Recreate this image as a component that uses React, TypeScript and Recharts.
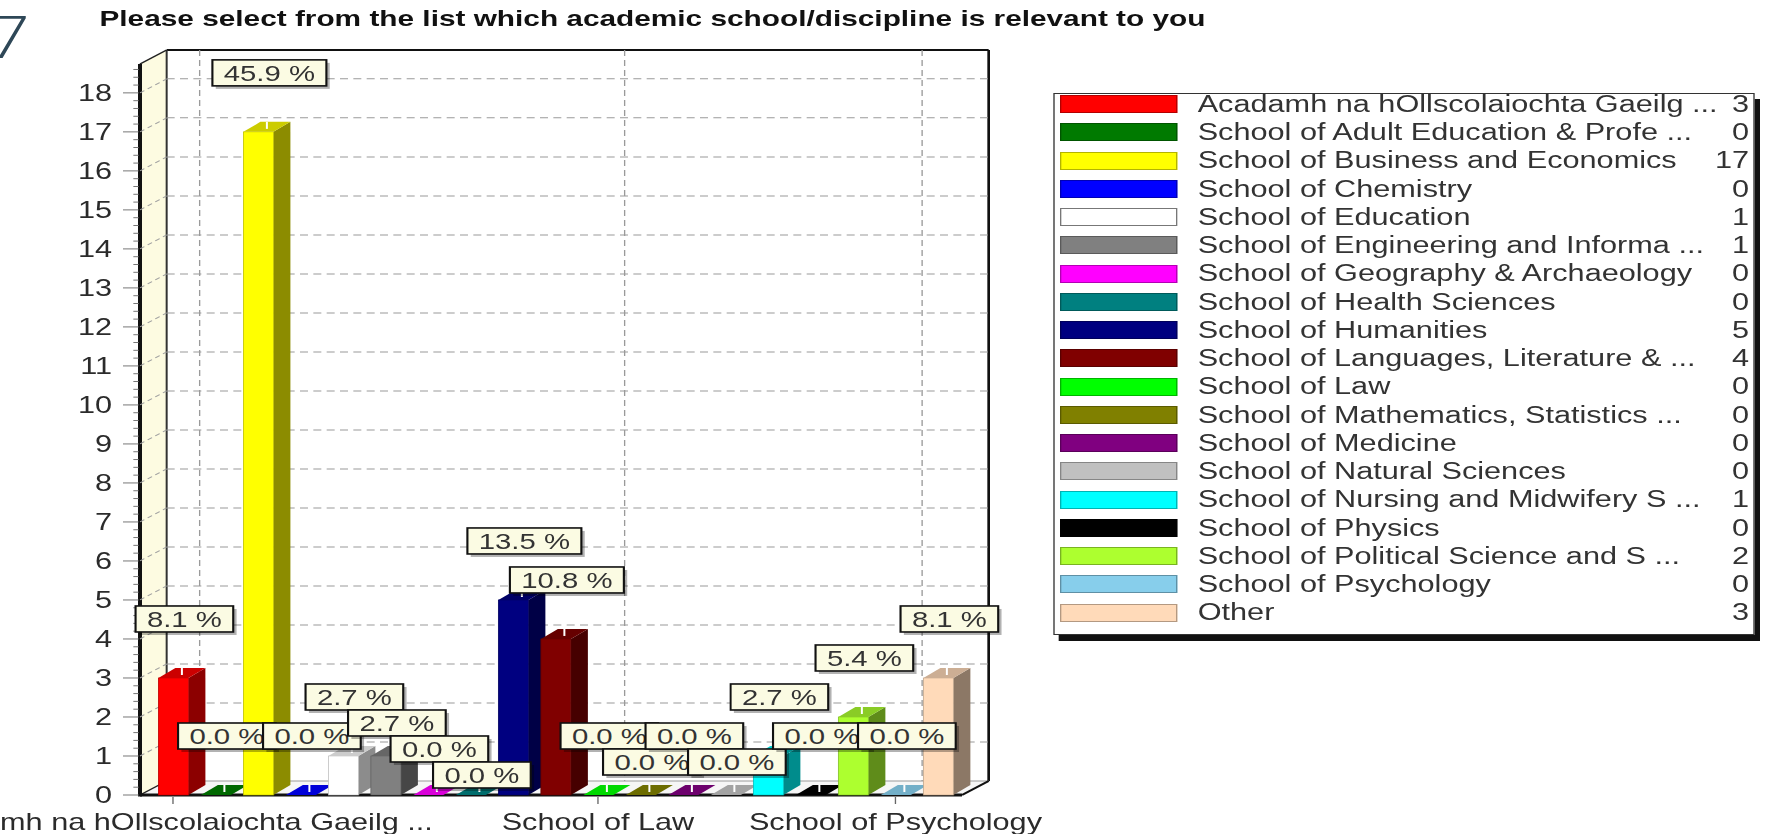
import React from 'react';
import {
  BarChart,
  Bar,
  XAxis,
  YAxis,
  Cell,
  LabelList,
  ReferenceArea,
  ReferenceLine,
  Legend,
} from 'recharts';

// answers per school / discipline (37 respondents)
const schools = [
  'Acadamh na hOllscolaiochta Gaeilg ...',
  'School of Adult Education & Profe ...',
  'School of Business and Economics',
  'School of Chemistry',
  'School of Education',
  'School of Engineering and Informa ...',
  'School of Geography & Archaeology',
  'School of Health Sciences',
  'School of Humanities',
  'School of Languages, Literature & ...',
  'School of Law',
  'School of Mathematics, Statistics ...',
  'School of Medicine',
  'School of Natural Sciences',
  'School of Nursing and Midwifery S ...',
  'School of Physics',
  'School of Political Science and S ...',
  'School of Psychology',
  'Other',
];
const counts = [3, 0, 17, 0, 1, 1, 0, 0, 5, 4, 0, 0, 0, 0, 1, 0, 2, 0, 3];
const schoolColors = [
  '#ff0000', '#007a00', '#ffff00', '#0000ff', '#ffffff', '#808080', '#ff00ff',
  '#008080', '#000080', '#800000', '#00ff00', '#808000', '#800080', '#c0c0c0',
  '#00ffff', '#000000', '#adff2f', '#87ceeb', '#ffdab9',
];
const yTicks = [0, 1, 2, 3, 4, 5, 6, 7, 8, 9, 10, 11, 12, 13, 14, 15, 16, 17, 18];
const xTicksShown = [0, 10, 17];

const TITLE = 'Please select from the list which academic school/discipline is relevant to you';

// the source screenshot is stretched sideways, so everything is drawn narrower and scaled
const STRETCH = 1772 / 1329;
const CHART_W = 1329;
const CHART_H = 834;
const PLOT = { left: 113.8, right: 719.4, top: 64, bottom: 795 };
const Y_MAX = 18.74;
const WALL_DX = 20;
const WALL_DY = 14;
const BAR_DX = 12.75;
const BAR_DY = 10;
const AXIS_GAP = 8.8;
const FLOOR_EXTRA = 2.1;
const FONT = "'Liberation Sans', Arial, sans-serif";
const TEXT = '#2b2b2b';

const LABEL_FONT = 22;
const LABEL_H = 26;
const LABEL_RISE = 59;
const LABEL_DX = 8.25;

const total = counts.reduce((a, b) => a + b, 0);
const pctText = (v: number) => `${((v / total) * 100).toFixed(1)} %`;
const chartData = schools.map((name, i) => ({ name, value: counts[i] }));
const yMinorTicks = Array.from({ length: Math.floor(Y_MAX * 5) + 1 }, (_, k) => k / 5);

// push a label down when it would sit on top of its left neighbour
const unitPx = (PLOT.bottom - PLOT.top) / Y_MAX;
const labelDrop: number[] = [];
{
  let prev = Infinity;
  counts.forEach((v, i) => {
    const nominal = -v * unitPx - LABEL_RISE;
    let c = nominal;
    if (i > 0 && Math.abs(c - prev) < LABEL_H) c = prev + LABEL_H;
    labelDrop.push(c - nominal);
    prev = c;
  });
}

const shade = (hex: string, f: number) => {
  const n = parseInt(hex.slice(1), 16);
  const r = Math.round(((n >> 16) & 255) * f);
  const g = Math.round(((n >> 8) & 255) * f);
  const b = Math.round((n & 255) * f);
  return `rgb(${r},${g},${b})`;
};

const arialW: Record<string, number> = { '.': 0.278, ' ': 0.278, '%': 0.889 };
const textWidth = (s: string, size: number) =>
  [...s].reduce((a, ch) => a + (arialW[ch] ?? 0.556), 0) * size;

// walls + floor of the 3D box
const Frame = (p: any) => {
  const { x, y, width, height } = p;
  const ax = x - AXIS_GAP;
  const rx = x + width + FLOOR_EXTRA;
  const top = y;
  const bot = y + height;
  return (
    <g>
      <rect x={ax + WALL_DX} y={top - WALL_DY} width={rx - ax} height={height} fill="#ffffff" />
      <polygon
        points={`${ax},${bot} ${ax},${top} ${ax + WALL_DX},${top - WALL_DY} ${ax + WALL_DX},${bot - WALL_DY}`}
        fill="#fdfbe1"
      />
      <polygon
        points={`${ax},${bot} ${ax + WALL_DX},${bot - WALL_DY} ${rx + WALL_DX},${bot - WALL_DY} ${rx},${bot}`}
        fill="#f6f6f6"
      />
      <line x1={ax + WALL_DX} y1={top - WALL_DY} x2={rx + WALL_DX} y2={top - WALL_DY} stroke="#111" strokeWidth={2} />
      <line x1={rx + WALL_DX} y1={top - WALL_DY} x2={rx + WALL_DX} y2={bot - WALL_DY} stroke="#111" strokeWidth={2} />
      <line x1={ax + WALL_DX} y1={top - WALL_DY} x2={ax + WALL_DX} y2={bot - WALL_DY} stroke="#333" strokeWidth={1.5} />
      <line x1={ax} y1={top} x2={ax + WALL_DX} y2={top - WALL_DY} stroke="#222" strokeWidth={1.5} />
      <line x1={ax} y1={bot} x2={ax + WALL_DX} y2={bot - WALL_DY} stroke="#222" strokeWidth={1.2} />
      <line x1={ax + WALL_DX} y1={bot - WALL_DY} x2={rx + WALL_DX} y2={bot - WALL_DY} stroke="#999" strokeWidth={1} />
      <line x1={rx} y1={bot} x2={rx + WALL_DX} y2={bot - WALL_DY} stroke="#111" strokeWidth={2} />
      <line x1={ax} y1={bot} x2={rx} y2={bot} stroke="#111" strokeWidth={3} />
      <line x1={ax} y1={bot + 1.5} x2={ax} y2={top} stroke="#111" strokeWidth={3} />
    </g>
  );
};

const HGrid = (p: any) => {
  const { x1, x2, y1 } = p;
  const ax = x1 - AXIS_GAP;
  const rx = x2 + FLOOR_EXTRA;
  return (
    <g>
      <line x1={ax} y1={y1} x2={ax + WALL_DX} y2={y1 - WALL_DY} stroke="#a0a0a0" strokeWidth={1} strokeDasharray="4 3" />
      <line x1={ax + WALL_DX} y1={y1 - WALL_DY} x2={rx + WALL_DX} y2={y1 - WALL_DY} stroke="#9a9a9a" strokeWidth={1} strokeDasharray="6 4" />
    </g>
  );
};

const VGrid = (p: any) => {
  const { x1, y1, y2 } = p;
  return (
    <line
      x1={x1 + WALL_DX}
      y1={Math.min(y1, y2) - WALL_DY}
      x2={x1 + WALL_DX}
      y2={Math.max(y1, y2) - WALL_DY}
      stroke="#9a9a9a"
      strokeWidth={1}
      strokeDasharray="6 4"
    />
  );
};

const Bar3D = (p: any) => {
  const { x, y, width, height, index } = p;
  const c = schoolColors[index];
  const topFace = `${x},${y} ${x + BAR_DX},${y - BAR_DY} ${x + width + BAR_DX},${y - BAR_DY} ${x + width},${y}`;
  const sideFace = `${x + width},${y} ${x + width + BAR_DX},${y - BAR_DY} ${x + width + BAR_DX},${y + height - BAR_DY} ${x + width},${y + height}`;
  const tx = x + width / 2 + BAR_DX / 2;
  return (
    <g>
      {height > 0 && <polygon points={sideFace} fill={shade(c, 0.55)} />}
      {height > 0 && (
        <rect x={x} y={y} width={width} height={height} fill={c} stroke={shade(c, 0.75)} strokeWidth={0.6} />
      )}
      <polygon points={topFace} fill={shade(c, height > 0 ? 0.8 : 0.85)} />
      <line x1={tx} y1={y - BAR_DY / 2 - 5} x2={tx} y2={y - BAR_DY / 2 + 2} stroke="#ffffff" strokeWidth={1.5} />
    </g>
  );
};

const PercentLabel = (p: any) => {
  const vb = p.viewBox ?? p;
  const x = vb.x ?? p.x;
  const y = vb.y ?? p.y;
  const width = vb.width ?? p.width;
  const i = p.index;
  const text = pctText(counts[i]);
  const bw = textWidth(text, LABEL_FONT) + 17;
  const cx = x + width / 2 + LABEL_DX;
  const cy = y - LABEL_RISE + labelDrop[i];
  return (
    <g>
      <rect x={cx - bw / 2 + 2.5} y={cy - LABEL_H / 2 + 3} width={bw} height={LABEL_H} fill="#000" opacity={0.3} />
      <rect x={cx - bw / 2} y={cy - LABEL_H / 2} width={bw} height={LABEL_H} fill="#fbfbe3" stroke="#111" strokeWidth={1.6} />
      <text x={cx} y={cy + 8} textAnchor="middle" fontSize={LABEL_FONT} fontFamily={FONT} fill="#333">
        {text}
      </text>
    </g>
  );
};

const YTick = (p: any) => {
  const v = p.payload.value;
  const y = p.y;
  const ax = PLOT.left - AXIS_GAP;
  const major = Math.abs(v - Math.round(v)) < 1e-6;
  return (
    <g>
      <line x1={ax - (major ? 12.75 : 5)} x2={ax - 1} y1={y} y2={y} stroke="#777" strokeWidth={1} />
      {major && (
        <text x={84} y={y + 8} textAnchor="end" fontSize={23} fontFamily={FONT} fill={TEXT}>
          {Math.round(v)}
        </text>
      )}
    </g>
  );
};

const XTick = (p: any) => {
  const i = p.index ?? p.payload?.index;
  if (!xTicksShown.includes(i)) return <g />;
  const x = p.x;
  return (
    <g>
      <line x1={x} x2={x} y1={PLOT.bottom + 2} y2={PLOT.bottom + 9} stroke="#666" strokeWidth={1} />
      <text x={x} y={PLOT.bottom + 35} textAnchor="middle" fontSize={23} fontFamily={FONT} fill={TEXT}>
        {p.payload.value}
      </text>
    </g>
  );
};

const ROW_H = 28.25;
const LegendBox = () => (
  <div
    style={{
      position: 'relative',
      width: 526,
      height: 542,
      boxSizing: 'border-box',
      border: '1.5px solid #333',
      boxShadow: '4px 6px 0 #111',
      background: '#fff',
      fontFamily: FONT,
      fontSize: 23,
      color: '#333',
    }}
  >
    {schools.map((name, i) => {
      const top = 10 + i * ROW_H - ROW_H / 2;
      return (
        <div key={name} style={{ position: 'absolute', left: 0, right: 0, top, height: ROW_H }}>
          <div
            style={{
              position: 'absolute',
              left: 4,
              top: (ROW_H - 18) / 2,
              width: 88.5,
              height: 18,
              boxSizing: 'border-box',
              background: schoolColors[i],
              border: `1px solid ${shade(schoolColors[i] === '#ffffff' ? '#aaaaaa' : schoolColors[i], 0.7)}`,
            }}
          />
          <span style={{ position: 'absolute', left: 107.5, top: 0, lineHeight: `${ROW_H}px`, whiteSpace: 'nowrap' }}>
            {name}
          </span>
          <span style={{ position: 'absolute', right: 3, top: 0, lineHeight: `${ROW_H}px` }}>{counts[i]}</span>
        </div>
      );
    })}
  </div>
);

export default function App() {
  return (
    <div
      style={{
        position: 'fixed',
        left: 0,
        top: 0,
        width: 1772,
        height: 834,
        background: '#fff',
        overflow: 'hidden',
      }}
    >
      <div
        style={{
          position: 'absolute',
          left: 0,
          top: 0,
          width: CHART_W,
          height: CHART_H,
          transform: `scaleX(${STRETCH})`,
          transformOrigin: '0 0',
          fontFamily: FONT,
        }}
      >
        <BarChart
          width={CHART_W}
          height={CHART_H}
          data={chartData}
          margin={{
            top: PLOT.top,
            right: CHART_W - PLOT.right,
            bottom: CHART_H - PLOT.bottom - 30,
            left: PLOT.left - 60,
          }}
        >
          <XAxis
            dataKey="name"
            height={30}
            interval={0}
            axisLine={false}
            tickLine={false}
            tick={<XTick />}
          />
          <YAxis
            type="number"
            width={60}
            domain={[0, Y_MAX]}
            ticks={yMinorTicks}
            interval={0}
            axisLine={false}
            tickLine={false}
            tick={<YTick />}
          />
          <ReferenceArea y1={0} y2={Y_MAX} ifOverflow="visible" shape={<Frame />} zIndex={-95} />
          {yTicks
            .filter((v) => v > 0)
            .map((v) => (
              <ReferenceLine key={`h${v}`} y={v} ifOverflow="visible" shape={<HGrid />} zIndex={-90} />
            ))}
          {xTicksShown.map((i) => (
            <ReferenceLine key={`v${i}`} x={schools[i]} ifOverflow="visible" shape={<VGrid />} zIndex={-90} />
          ))}
          <Legend
            layout="vertical"
            align="center"
            verticalAlign="middle"
            content={() => <LegendBox />}
            wrapperStyle={{ position: 'absolute', left: 789.75, top: 93, width: 526, height: 542 }}
          />
          <Bar dataKey="value" barSize={22.5} shape={<Bar3D />} isAnimationActive={false}>
            {chartData.map((d, i) => (
              <Cell key={d.name} fill={schoolColors[i]} />
            ))}
            <LabelList dataKey="value" content={<PercentLabel />} />
          </Bar>
        </BarChart>
        <svg
          width={CHART_W}
          height={70}
          style={{ position: 'absolute', left: 0, top: 0, pointerEvents: 'none' }}
        >
          <text x={-11} y={58} fontSize={59} fontFamily="'Open Sans', sans-serif" fontWeight={300} fill="#2e4757">
            7
          </text>
          <text
            x={74.6}
            y={26}
            fontSize={22}
            fontWeight="bold"
            fontFamily={FONT}
            fill="#111"
            textLength={829.5}
            lengthAdjust="spacingAndGlyphs"
          >
            {TITLE}
          </text>
        </svg>
      </div>
    </div>
  );
}
